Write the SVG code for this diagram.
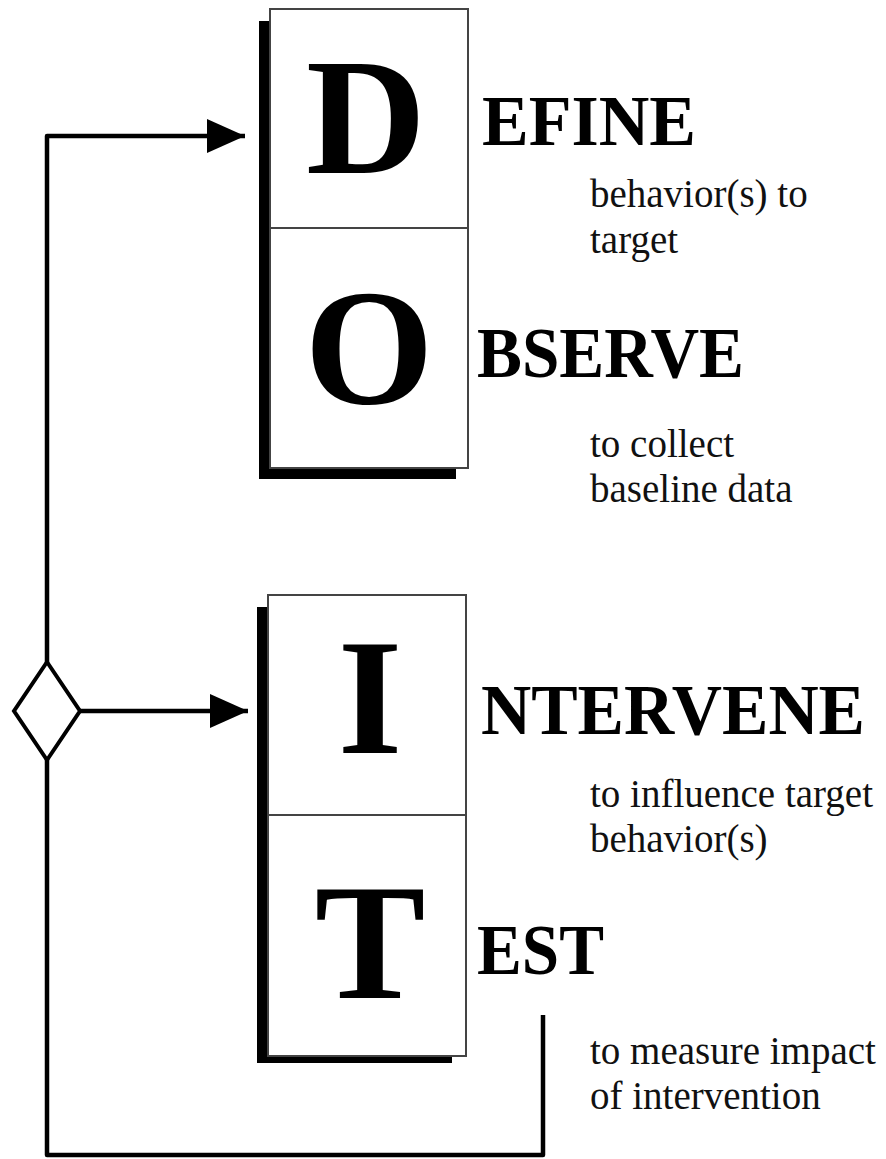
<svg xmlns="http://www.w3.org/2000/svg" width="886" height="1159" viewBox="0 0 886 1159">
  <defs>
    <marker id="arrowhead" markerUnits="userSpaceOnUse" markerWidth="40" markerHeight="36" refX="38" refY="17" orient="auto">
      <path d="M0,0 L38,17 L0,34 Z" fill="#000"/>
    </marker>
    <style>
      .shadow { fill: #000; }
      .box { fill: #fff; stroke: #444; stroke-width: 2; }
      .divider { stroke: #444; stroke-width: 2; }
      .initial { font-family: "Liberation Serif", "Times New Roman", serif; font-weight: bold; font-size: 166px; fill: #000; text-anchor: middle; }
      .word { font-family: "Liberation Serif", "Times New Roman", serif; font-weight: bold; font-size: 71px; fill: #000; }
      .note { font-family: "Liberation Serif", "Times New Roman", serif; font-size: 39px; fill: #111; }
      .flow { fill: none; stroke: #000; stroke-width: 4.5; stroke-linejoin: round; }
      .diamond { fill: #fff; stroke: #000; stroke-width: 4; }
    </style>
  </defs>
  <rect width="886" height="1159" fill="#fff"/>

  <!-- feedback connectors -->
  <g id="connectors">
    <path class="flow" d="M47,664 V136 H245" marker-end="url(#arrowhead)"/>
    <path class="flow" d="M80,711 H248" marker-end="url(#arrowhead)"/>
    <path class="flow" d="M47,758 V1155 H543 V1015"/>
    <polygon id="decision" class="diamond" points="47,662 80,711 47,760 14,711"/>
  </g>

  <!-- D / O block -->
  <g id="block-do">
    <rect class="shadow" x="259" y="21" width="197" height="458"/>
    <rect class="box" x="270" y="9" width="198" height="459"/>
    <line class="divider" x1="270" y1="228" x2="468" y2="228"/>
  </g>
  <g id="define">
    <text class="initial" x="366" y="173">D</text>
    <text class="word" x="482" y="145" textLength="214" lengthAdjust="spacingAndGlyphs">EFINE</text>
    <text class="note" x="590" y="207">behavior(s) to</text>
    <text class="note" x="590" y="253">target</text>
  </g>
  <g id="observe">
    <text class="initial" x="369" y="403">O</text>
    <text class="word" x="477" y="377" textLength="267" lengthAdjust="spacingAndGlyphs">BSERVE</text>
    <text class="note" x="590" y="457">to collect</text>
    <text class="note" x="590" y="502">baseline data</text>
  </g>

  <!-- I / T block -->
  <g id="block-it">
    <rect class="shadow" x="257" y="607" width="195" height="456"/>
    <rect class="box" x="268" y="595" width="198" height="461"/>
    <line class="divider" x1="268" y1="815" x2="466" y2="815"/>
  </g>
  <g id="intervene">
    <text class="initial" x="370" y="753">I</text>
    <text class="word" x="481" y="734" textLength="384" lengthAdjust="spacingAndGlyphs">NTERVENE</text>
    <text class="note" x="590" y="807">to influence target</text>
    <text class="note" x="590" y="852">behavior(s)</text>
  </g>
  <g id="test">
    <text class="initial" x="370" y="998">T</text>
    <text class="word" x="477" y="974" textLength="127" lengthAdjust="spacingAndGlyphs">EST</text>
    <text class="note" x="590" y="1064">to measure impact</text>
    <text class="note" x="590" y="1109">of intervention</text>
  </g>
</svg>
